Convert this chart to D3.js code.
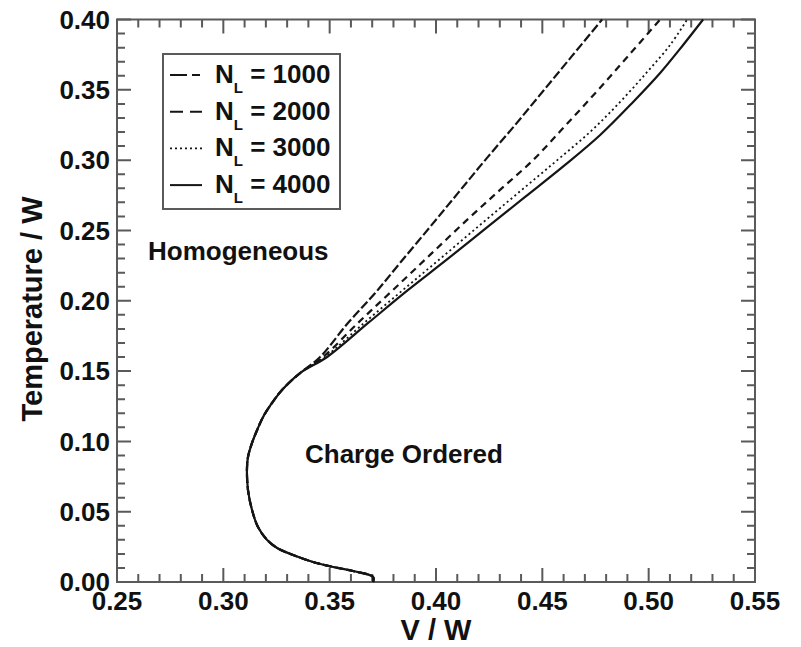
<!DOCTYPE html>
<html>
<head>
<meta charset="utf-8">
<script src="https://cdn.jsdelivr.net/npm/d3@7"></script>
<style>
  html, body { margin: 0; padding: 0; background: #fff; }
  svg { display: block; }
  text { font-family: "Liberation Sans", Arial, Helvetica, sans-serif; font-weight: bold; fill: #111; }
</style>
</head>
<body>
<svg id="chart" width="801" height="647"></svg>
<script>
// ---------------- data ----------------
// Common low-temperature branch (identical for all N_L)
const commonV = [0.3704, 0.3704, 0.3610, 0.3516, 0.3422, 0.3328, 0.3253, 0.3206, 0.3163, 0.3135, 0.3116, 0.3111, 0.3116, 0.3135, 0.3159, 0.3187, 0.3229, 0.3276, 0.3361];
const commonT = [0.0000, 0.0036, 0.0078, 0.0107, 0.0142, 0.0192, 0.0242, 0.0299, 0.0391, 0.0512, 0.0654, 0.0797, 0.0889, 0.0989, 0.1081, 0.1174, 0.1273, 0.1366, 0.1486];

// Upper branches
const v1000 = [0.3455, 0.3586, 0.3714, 0.3831, 0.3972, 0.4104, 0.4240, 0.4372, 0.4504, 0.4640, 0.4781];
const t1000 = [0.1600, 0.1842, 0.2055, 0.2269, 0.2525, 0.2767, 0.3016, 0.3250, 0.3492, 0.3741, 0.4000];

const v2000 = [0.3469, 0.3633, 0.3798, 0.3972, 0.4146, 0.4301, 0.4457, 0.4607, 0.4758, 0.4904, 0.5054];
const t2000 = [0.1600, 0.1842, 0.2077, 0.2326, 0.2575, 0.2788, 0.3001, 0.3243, 0.3492, 0.3741, 0.4000];

const v3000 = [0.3478, 0.3662, 0.3845, 0.4024, 0.4207, 0.4381, 0.4560, 0.4725, 0.4866, 0.4993, 0.5101, 0.5181];
const t3000 = [0.1600, 0.1842, 0.2077, 0.2304, 0.2539, 0.2760, 0.2987, 0.3201, 0.3414, 0.3627, 0.3819, 0.4000];

const v4000 = [0.3488, 0.3681, 0.3869, 0.4043, 0.4231, 0.4419, 0.4607, 0.4772, 0.4927, 0.5054, 0.5162, 0.5256];
const t4000 = [0.1600, 0.1842, 0.2077, 0.2283, 0.2511, 0.2738, 0.2966, 0.3179, 0.3414, 0.3620, 0.3819, 0.4000];

const seriesNames = ["1000", "2000", "3000", "4000"];
const xTicks = [0.25, 0.30, 0.35, 0.40, 0.45, 0.50, 0.55];
const yTicks = [0.00, 0.05, 0.10, 0.15, 0.20, 0.25, 0.30, 0.35, 0.40];
const xTickLabels = ["0.25", "0.30", "0.35", "0.40", "0.45", "0.50", "0.55"];
const yTickLabels = ["0.00", "0.05", "0.10", "0.15", "0.20", "0.25", "0.30", "0.35", "0.40"];

// ---------------- layout ----------------
const svg = d3.select("#chart");
const L = 117, R = 755, T = 19.5, B = 582;
const x = d3.scaleLinear().domain([0.25, 0.55]).range([L, R]);
const y = d3.scaleLinear().domain([0, 0.40]).range([B, T]);

const axisColor = "#5a5a5a";
const majorLen = 14, minorLen = 8;
const xMinor = d3.range(26, 55).filter(d => d % 5 !== 0).map(d => d / 100);
const yMinor = d3.range(1, 40).filter(d => d % 5 !== 0).map(d => d / 100);

// frame
svg.append("rect").attr("x", L).attr("y", T).attr("width", R - L).attr("height", B - T)
  .attr("fill", "none").attr("stroke", axisColor).attr("stroke-width", 2);

// ticks (inward on all four sides), built as one path
const xAllTicks = xTicks.map(d => ({v: d, len: majorLen})).concat(xMinor.map(d => ({v: d, len: minorLen})));
const yAllTicks = yTicks.map(d => ({v: d, len: majorLen})).concat(yMinor.map(d => ({v: d, len: minorLen})));
const tp = d3.path();
xAllTicks.forEach(d => {
  const px = x(d.v);
  tp.moveTo(px, B); tp.lineTo(px, B - d.len);
  tp.moveTo(px, T); tp.lineTo(px, T + d.len);
});
yAllTicks.forEach(d => {
  const py = y(d.v);
  tp.moveTo(L, py); tp.lineTo(L + d.len, py);
  tp.moveTo(R, py); tp.lineTo(R - d.len, py);
});
svg.append("path").attr("d", tp.toString())
  .attr("fill", "none").attr("stroke", axisColor).attr("stroke-width", 2);

// tick labels
svg.append("g").selectAll("text").data(xTicks).join("text")
  .attr("x", d => x(d)).attr("y", B + 28).attr("text-anchor", "middle").attr("font-size", 26)
  .text((d, i) => xTickLabels[i]);
svg.append("g").selectAll("text").data(yTicks).join("text")
  .attr("x", L - 7).attr("y", d => y(d)).attr("dy", "0.36em").attr("text-anchor", "end").attr("font-size", 26)
  .text((d, i) => yTickLabels[i]);

// ---------------- curves ----------------
const upperV = [v1000, v2000, v3000, v4000];
const upperT = [t1000, t2000, t3000, t4000];
const dashes = ["9,3", "7,5", "2,3", null];
const legendDashes = ["17,5,8,5", "13,7", "2,3", null];

const line = d3.line().x(d => x(d[0])).y(d => y(d[1])).curve(d3.curveCatmullRom.alpha(0.5));

seriesNames.forEach((name, i) => {
  const pts = commonV.map((v, j) => [v, commonT[j]])
    .concat(upperV[i].map((v, j) => [v, upperT[i][j]]));
  svg.append("path").datum(pts)
    .attr("d", line)
    .attr("fill", "none")
    .attr("stroke", "#151515")
    .attr("stroke-width", i === 2 ? 1.8 : 2.2)
    .attr("stroke-dasharray", dashes[i]);
});

// ---------------- legend ----------------
const lg = svg.append("g");
lg.append("rect").attr("x", 163).attr("y", 54).attr("width", 177).attr("height", 155)
  .attr("fill", "#fff").attr("stroke", axisColor).attr("stroke-width", 2);
seriesNames.forEach((name, i) => {
  const base = 83 + i * 36.7;
  lg.append("line").attr("x1", 170).attr("x2", 202).attr("y1", base - 8).attr("y2", base - 8)
    .attr("stroke", "#151515").attr("stroke-width", i === 2 ? 1.6 : 2)
    .attr("stroke-dasharray", legendDashes[i]);
  const t = lg.append("text").attr("x", 215).attr("y", base).attr("font-size", 26);
  t.append("tspan").text("N");
  t.append("tspan").attr("font-size", 15).attr("dy", 10).text("L");
  t.append("tspan").attr("dy", -10).text(" = " + name);
});

// ---------------- annotations ----------------
svg.append("text").attr("x", 148).attr("y", 260).attr("font-size", 26).text("Homogeneous");
svg.append("text").attr("x", 305).attr("y", 463).attr("font-size", 26).text("Charge Ordered");

// axis titles
svg.append("text").attr("x", (L + R) / 2).attr("y", 640).attr("text-anchor", "middle")
  .attr("font-size", 29).text("V / W");
svg.append("text").attr("transform", `translate(42,${309}) rotate(-90)`).attr("text-anchor", "middle")
  .attr("font-size", 29).text("Temperature / W");
</script>
</body>
</html>
